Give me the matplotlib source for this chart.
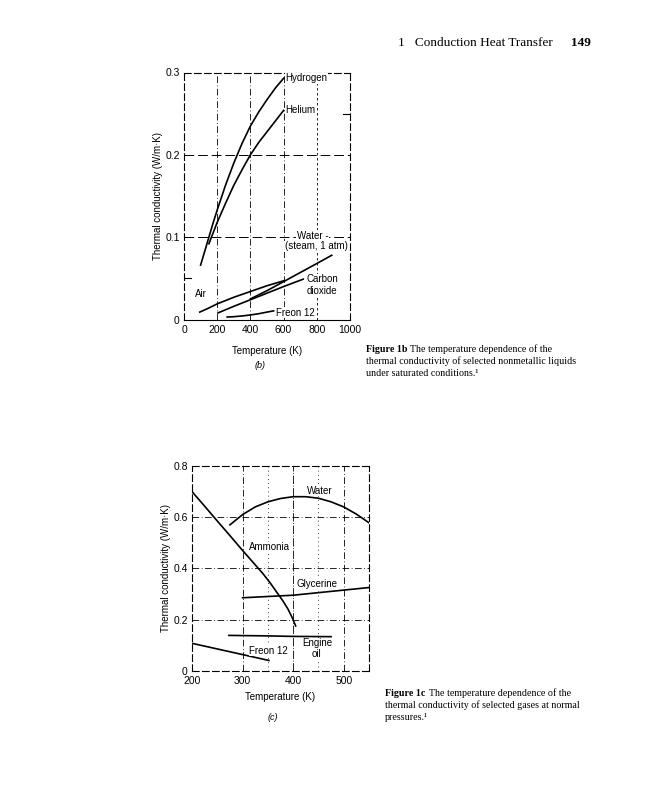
import matplotlib.pyplot as plt

# --- Figure 1b: gases -------------------------------------------------------
gas_T_ticks = [0, 200, 400, 600, 800, 1000]
gas_k_ticks = [0, 0.1, 0.2, 0.3]

hydrogen_T = [100, 125, 150, 175, 200, 250, 300, 350, 400, 450, 500, 550, 600]
hydrogen_k = [0.066, 0.083, 0.100, 0.117, 0.133, 0.163, 0.190, 0.214, 0.235,
              0.252, 0.267, 0.281, 0.293]
helium_T = [150, 175, 200, 250, 300, 350, 400, 450, 500, 550, 600]
helium_k = [0.092, 0.105, 0.118, 0.141, 0.163, 0.182, 0.200, 0.215, 0.228, 0.241, 0.254]
steam_T = [400, 500, 600, 700, 800, 890]
steam_k = [0.025, 0.035, 0.046, 0.057, 0.068, 0.078]
air_T = [95, 150, 200, 250, 300, 400, 500, 600]
air_k = [0.009, 0.014, 0.019, 0.023, 0.027, 0.034, 0.041, 0.047]
co2_T = [205, 300, 400, 500, 600, 718]
co2_k = [0.008, 0.016, 0.024, 0.032, 0.040, 0.049]
freon_gas_T = [260, 300, 350, 400, 450, 500, 540]
freon_gas_k = [0.003, 0.0034, 0.0043, 0.0055, 0.007, 0.009, 0.0105]

# --- Figure 1c: liquids -----------------------------------------------------
liq_T_ticks = [200, 300, 400, 500]
liq_k_ticks = [0, 0.2, 0.4, 0.6, 0.8]

water_T = [275, 300, 325, 350, 375, 400, 425, 450, 475, 500, 525, 550]
water_k = [0.570, 0.610, 0.640, 0.660, 0.673, 0.680, 0.680, 0.674, 0.660,
           0.640, 0.612, 0.578]
ammonia_T = [200, 225, 250, 275, 300, 320, 340, 355, 370, 380, 390, 398, 405]
ammonia_k = [0.700, 0.643, 0.585, 0.528, 0.470, 0.425, 0.380, 0.342, 0.300,
             0.272, 0.240, 0.208, 0.175]
glycerine_T = [300, 400, 550]
glycerine_k = [0.285, 0.295, 0.325]
oil_T = [273, 350, 400, 475]
oil_k = [0.138, 0.136, 0.134, 0.133]
freon_liq_T = [200, 250, 300, 352]
freon_liq_k = [0.107, 0.085, 0.063, 0.040]

SANS = "Liberation Sans"
SERIF = "Liberation Serif"
plt.rcParams["font.family"] = [SANS, "DejaVu Sans"]

fig = plt.figure(figsize=(6.47, 8.0), dpi=100)


def style_axes(ax):
    for sp in ax.spines.values():
        sp.set_linestyle((0, (6, 3)))
        sp.set_linewidth(0.8)
    ax.tick_params(length=0, labelsize=7.5)
    ax.tick_params(axis="x", pad=4)
    ax.tick_params(axis="y", pad=3)


DASHDOT = (0, (8, 3, 1, 3))
lab = dict(fontsize=7, color="black", zorder=5,
           bbox=dict(facecolor="white", edgecolor="none", pad=0.4))

# top chart (b)
ax1 = fig.add_axes([184 / 647, 1 - 319.5 / 800, 166 / 647, 247 / 800])
style_axes(ax1)
ax1.spines["bottom"].set_linestyle("-")
for x, ls in [(200, DASHDOT), (400, DASHDOT), (600, DASHDOT), (800, (0, (3, 3)))]:
    ax1.axvline(x, color="black", lw=0.6, ls=ls, zorder=1)
for y in [0.1, 0.2]:
    ax1.axhline(y, color="black", lw=0.7, ls=(0, (10, 4)), zorder=1)
ax1.axhline(0.05, xmin=0, xmax=0.04, color="black", lw=0.8)
ax1.axhline(0.25, xmin=0.96, xmax=1, color="black", lw=0.8)

for T, k in [(hydrogen_T, hydrogen_k), (helium_T, helium_k), (steam_T, steam_k),
             (air_T, air_k), (co2_T, co2_k), (freon_gas_T, freon_gas_k)]:
    ax1.plot(T, k, color="black", lw=1.2, zorder=3)

ax1.text(612, 0.293, "Hydrogen", va="center", **lab)
ax1.text(612, 0.254, "Helium", va="center", **lab)
ax1.text(870, 0.102, "Water -", ha="right", va="center", **lab)
ax1.text(985, 0.089, "(steam, 1 atm)", ha="right", va="center", **lab)
ax1.text(738, 0.049, "Carbon", va="center", **lab)
ax1.text(738, 0.035, "dioxide", va="center", **lab)
ax1.text(65, 0.031, "Air", va="center", **lab)
ax1.text(552, 0.0085, "Freon 12", va="center", **lab)

ax1.set_xlim(0, 1000)
ax1.set_ylim(0, 0.3)
ax1.set_xticks(gas_T_ticks)
ax1.set_yticks(gas_k_ticks)
ax1.set_yticklabels(["0", "0.1", "0.2", "0.3"])
ax1.set_xlabel("Temperature (K)", fontsize=7, labelpad=8)
ax1.set_ylabel("Thermal conductivity (W/m·K)", fontsize=7, labelpad=2)

# bottom chart (c)
ax2 = fig.add_axes([192 / 647, 1 - 670.7 / 800, 177 / 647, 204.7 / 800])
style_axes(ax2)
for x, ls in [(300, DASHDOT), (400, (0, (10, 2, 1, 2))), (500, DASHDOT),
              (350, (0, (1, 4))), (450, (0, (1, 4)))]:
    ax2.axvline(x, color="black", lw=0.6, ls=ls, zorder=1)
for y in [0.2, 0.4, 0.6]:
    ax2.axhline(y, color="black", lw=0.6, ls=DASHDOT, zorder=1)

for T, k in [(water_T, water_k), (ammonia_T, ammonia_k), (glycerine_T, glycerine_k),
             (oil_T, oil_k), (freon_liq_T, freon_liq_k)]:
    ax2.plot(T, k, color="black", lw=1.2, zorder=3)

ax2.text(427, 0.703, "Water", va="center", **lab)
ax2.text(312, 0.482, "Ammonia", va="center", **lab)
ax2.text(407, 0.338, "Glycerine", va="center", **lab)
ax2.text(313, 0.078, "Freon 12", va="center", **lab)
ax2.text(447, 0.107, "Engine", ha="center", va="center", **lab)
ax2.text(447, 0.067, "oil", ha="center", va="center", **lab)

ax2.set_xlim(200, 550)
ax2.set_ylim(0, 0.8)
ax2.set_xticks(liq_T_ticks)
ax2.set_yticks(liq_k_ticks)
ax2.set_yticklabels(["0", "0.2", "0.4", "0.6", "0.8"])
ax2.set_xlabel("Temperature (K)", fontsize=7, labelpad=4)
ax2.set_ylabel("Thermal conductivity (W/m·K)", fontsize=7, labelpad=2)


# page text
def px(x, y):
    return x / 647, 1 - y / 800


fig.text(*px(398, 43), "1   Conduction Heat Transfer", family=SERIF, fontsize=9.5,
         va="center")
fig.text(*px(571, 43), "149", family=SERIF, fontsize=9.5, weight="bold", va="center")

fig.text(*px(260, 366), "(b)", fontsize=6.5, style="italic", ha="center", va="center")
fig.text(*px(273, 717), "(c)", fontsize=6.5, style="italic", ha="center", va="center")

cap_b = ["The temperature dependence of the",
         "thermal conductivity of selected nonmetallic liquids",
         "under saturated conditions.¹"]
cap_c = ["The temperature dependence of the",
         "thermal conductivity of selected gases at normal",
         "pressures.¹"]
for (x0, y0, head, lines) in [(366, 349, "Figure 1b", cap_b), (385, 693, "Figure 1c", cap_c)]:
    fig.text(*px(x0, y0), head, family=SERIF, fontsize=7.2, weight="bold", va="center")
    fig.text(*px(x0 + 44, y0), lines[0], family=SERIF, fontsize=7.2, va="center")
    for i, line in enumerate(lines[1:], start=1):
        fig.text(*px(x0, y0 + 12 * i), line, family=SERIF, fontsize=7.2, va="center")

fig.savefig("out.png", dpi=100)
